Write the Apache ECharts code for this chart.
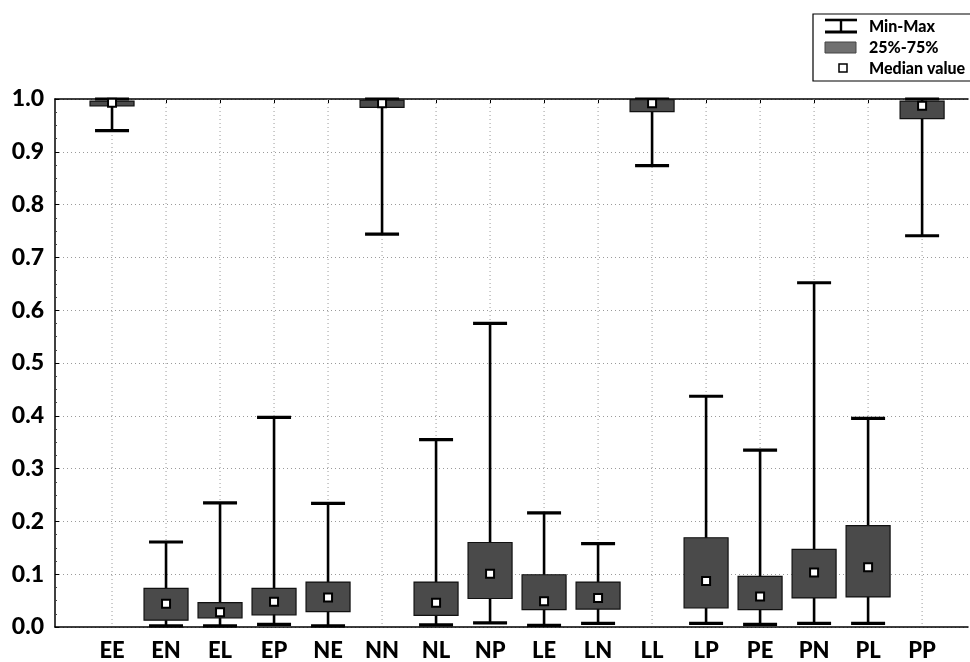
<!DOCTYPE html>
<html>
<head>
<meta charset="utf-8">
<script src="https://cdn.jsdelivr.net/npm/echarts@6/dist/echarts.min.js"></script>
<style>html,body{margin:0;padding:0;background:#fff;}#c{width:970px;height:662px;}</style>
</head>
<body>
<div id="c"></div>
<script>
const categories = ['EE','EN','EL','EP','NE','NN','NL','NP','LE','LN','LL','LP','PE','PN','PL','PP'];
const minVals    = [0.940,0.002,0.002,0.005,0.002,0.744,0.004,0.008,0.003,0.007,0.874,0.007,0.005,0.007,0.007,0.741];
const q1Vals     = [0.987,0.013,0.017,0.023,0.029,0.984,0.022,0.054,0.033,0.034,0.976,0.036,0.033,0.055,0.057,0.963];
const medianVals = [0.993,0.044,0.028,0.048,0.056,0.992,0.046,0.101,0.049,0.055,0.992,0.087,0.058,0.103,0.113,0.987];
const q3Vals     = [0.996,0.073,0.046,0.073,0.085,0.998,0.085,0.160,0.099,0.085,0.999,0.169,0.096,0.147,0.192,0.996];
const maxVals    = [1.000,0.161,0.235,0.397,0.234,1.000,0.355,0.575,0.216,0.158,1.000,0.437,0.335,0.652,0.395,1.000];
const yTicks = [0,0.1,0.2,0.3,0.4,0.5,0.6,0.7,0.8,0.9,1.0];

const FONT = 'Lato, "Open Sans", "Liberation Sans", sans-serif';
const idx = categories.map((c, i) => i);
const boxData = categories.map((c, i) => [i, minVals[i], q1Vals[i], medianVals[i], q3Vals[i], maxVals[i]]);

const chart = echarts.init(document.getElementById('c'), null, {renderer: 'canvas'});

function renderGrid(params, api) {
  const i = api.value(0);
  const top = api.coord([i, 1]);
  const bot = api.coord([i, 0]);
  return {
    type: 'line',
    shape: {x1: top[0], y1: top[1], x2: bot[0], y2: bot[1]},
    style: {stroke: '#9a9a9a', lineWidth: 1, lineDash: [1, 3]},
    silent: true
  };
}

function renderBox(params, api) {
  const i = api.value(0);
  const pMin = api.coord([i, api.value(1)]);
  const pQ1 = api.coord([i, api.value(2)]);
  const pMed = api.coord([i, api.value(3)]);
  const pQ3 = api.coord([i, api.value(4)]);
  const pMax = api.coord([i, api.value(5)]);
  const x = pMed[0];
  const boxW = 44, capW = 34, sq = 8;
  return {
    type: 'group',
    children: [
      {type: 'line', shape: {x1: x, y1: pMax[1], x2: x, y2: pMin[1]},
       style: {stroke: '#000', lineWidth: 2.6}},
      {type: 'line', shape: {x1: x - capW/2, y1: pMax[1], x2: x + capW/2, y2: pMax[1]},
       style: {stroke: '#000', lineWidth: 3.2}},
      {type: 'line', shape: {x1: x - capW/2, y1: pMin[1], x2: x + capW/2, y2: pMin[1]},
       style: {stroke: '#000', lineWidth: 3.2}},
      {type: 'rect', shape: {x: x - boxW/2, y: pQ3[1], width: boxW, height: pQ1[1] - pQ3[1]},
       style: {fill: '#4a4a4a', stroke: '#111', lineWidth: 1.2}},
      {type: 'rect', shape: {x: x - sq/2, y: pMed[1] - sq/2, width: sq, height: sq},
       style: {fill: '#fff', stroke: '#000', lineWidth: 2}}
    ]
  };
}

const axisMin = -1.056, axisMax = 15.85;

const option = {
  backgroundColor: '#fff',
  animation: false,
  grid: {left: 55, right: 2, top: 99, bottom: 31, containLabel: false},
  xAxis: [
    {
      type: 'value', min: axisMin, max: axisMax, position: 'bottom',
      axisLine: {show: true, onZero: false, lineStyle: {color: '#000', width: 1.5}},
      axisTick: {show: false},
      splitLine: {show: false},
      axisLabel: {
        show: true, customValues: idx, margin: 13,
        formatter: v => categories[Math.round(v)] || '',
        color: '#000', fontFamily: FONT, fontWeight: 900, fontSize: 22
      }
    },
    {
      type: 'value', min: axisMin, max: axisMax, position: 'top',
      axisLine: {show: true, onZero: false, lineStyle: {color: '#000', width: 1.5}},
      axisTick: {show: true, inside: true, length: 4, customValues: idx, lineStyle: {color: '#000'}},
      axisLabel: {show: false},
      splitLine: {show: false}
    }
  ],
  yAxis: {
    type: 'value', min: 0, max: 1, interval: 0.1,
    axisLine: {show: true, onZero: false, lineStyle: {color: '#000', width: 1.5}},
    axisTick: {show: true, inside: true, length: 4, lineStyle: {color: '#000'}},
    minorTick: {show: true, splitNumber: 4, length: 2, lineStyle: {color: '#444'}},
    splitLine: {show: true, lineStyle: {color: '#9a9a9a', width: 1, type: [1, 3]}},
    axisLabel: {
      margin: 11, color: '#000', fontFamily: FONT, fontWeight: 900, fontSize: 23,
      formatter: v => v.toFixed(1)
    }
  },
  series: [
    {type: 'custom', name: 'grid', renderItem: renderGrid, data: idx.map(i => [i]), z: 1, silent: true},
    {type: 'custom', name: 'box', renderItem: renderBox, data: boxData, z: 5,
     encode: {x: 0, y: [1, 2, 3, 4, 5]}, clip: false}
  ],
  graphic: [
    {type: 'rect', shape: {x: 813, y: 14, width: 170, height: 67},
     style: {fill: '#fff', stroke: '#000', lineWidth: 1.2}, z: 10},
    {type: 'line', shape: {x1: 825, y1: 20, x2: 857, y2: 20}, style: {stroke: '#000', lineWidth: 2.6}, z: 11},
    {type: 'line', shape: {x1: 841, y1: 20, x2: 841, y2: 32}, style: {stroke: '#000', lineWidth: 2.4}, z: 11},
    {type: 'line', shape: {x1: 825, y1: 32, x2: 857, y2: 32}, style: {stroke: '#000', lineWidth: 3}, z: 11},
    {type: 'rect', shape: {x: 825, y: 42, width: 31, height: 11}, style: {fill: '#707070', stroke: '#444', lineWidth: 1}, z: 11},
    {type: 'rect', shape: {x: 839, y: 64, width: 8, height: 8}, style: {fill: '#fff', stroke: '#000', lineWidth: 1.5}, z: 11},
    {type: 'text', x: 869, y: 27, style: {text: 'Min-Max', fill: '#000', font: '900 16px ' + FONT, textVerticalAlign: 'middle'}, z: 11},
    {type: 'text', x: 869, y: 48, style: {text: '25%-75%', fill: '#000', font: '900 16px ' + FONT, textVerticalAlign: 'middle'}, z: 11},
    {type: 'text', x: 869, y: 69, style: {text: 'Median value', fill: '#000', font: '900 16px ' + FONT, textVerticalAlign: 'middle'}, z: 11}
  ]
};
chart.setOption(option);
</script>
</body>
</html>
